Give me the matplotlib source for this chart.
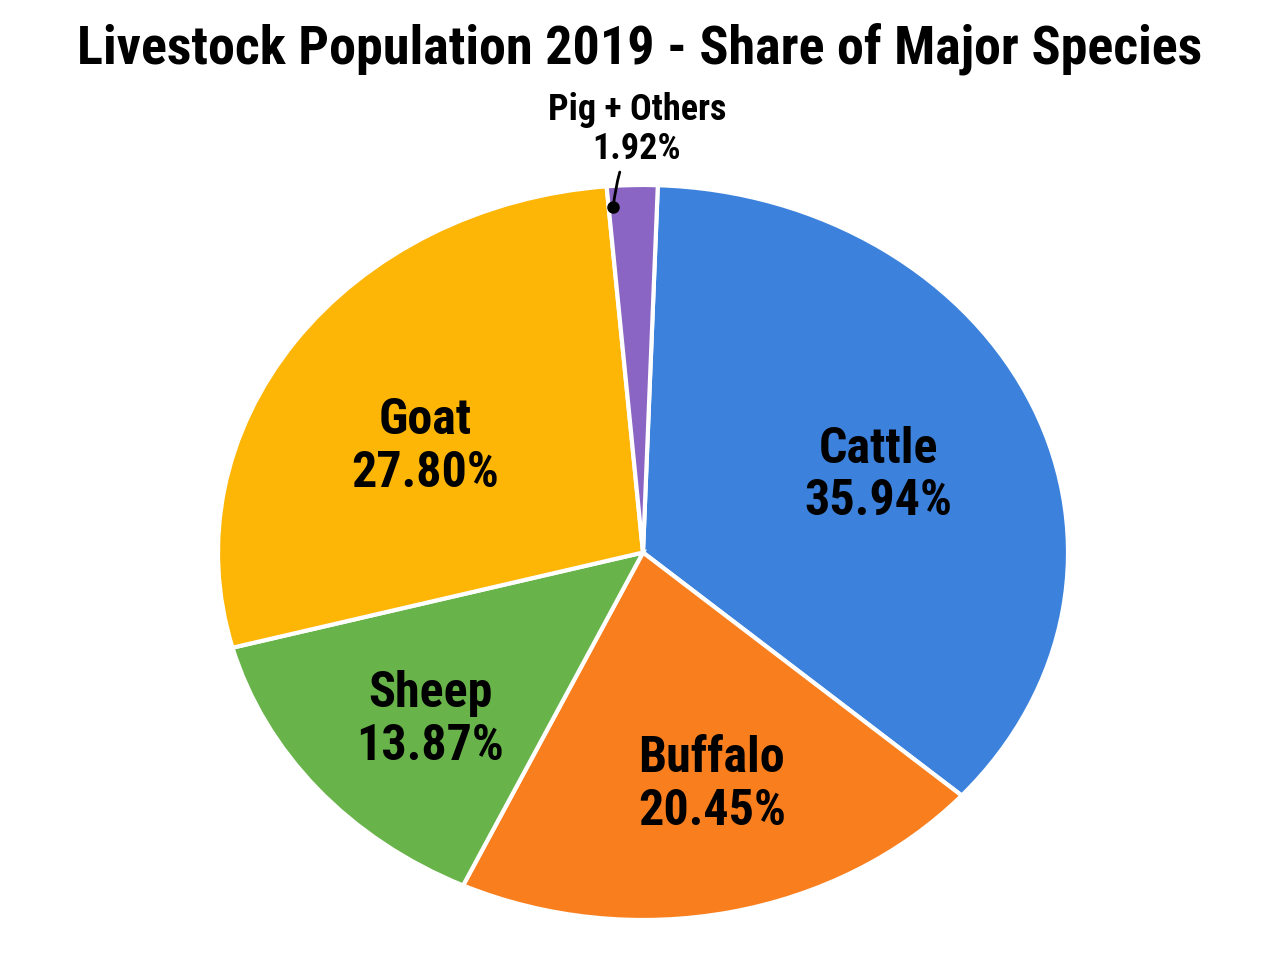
import matplotlib
matplotlib.use("Agg")
import matplotlib.pyplot as plt
from matplotlib import font_manager

species = ["Cattle", "Buffalo", "Sheep", "Goat", "Pig + Others"]
shares = [35.94, 20.45, 13.87, 27.80, 1.92]
colors = ["#3C82DC", "#F97F1E", "#68B44A", "#FDB506", "#8A65C4"]

installed = {f.name for f in font_manager.fontManager.ttflist}
family = "DejaVu Sans"
for name in ["Roboto Condensed", "Liberation Sans Narrow", "Open Sans Condensed", "Liberation Sans"]:
    if name in installed:
        family = name
        break
plt.rcParams["font.family"] = [family, "DejaVu Sans"]

fig = plt.figure(figsize=(12.8, 9.6), dpi=100)
# elliptical pie: axes wider than tall, aspect left free
ax = fig.add_axes([218 / 1280, 40 / 960, 850 / 1280, 735 / 960])
wedges, _ = ax.pie(shares, colors=colors, startangle=88, counterclock=False,
                   wedgeprops=dict(edgecolor="white", linewidth=3))
ax.set_aspect("auto")
ax.set_xlim(-1, 1)
ax.set_ylim(-1, 1)
ax.axis("off")

# inside label positions (data coords of the ellipse)
label_pos = {
    "Cattle": (0.553, 0.21),
    "Buffalo": (0.162, -0.633),
    "Sheep": (-0.50, -0.456),
    "Goat": (-0.513, 0.287),
}
for name, val in zip(species, shares):
    if name in label_pos:
        x, y = label_pos[name]
        ax.text(x, y, f"{name}\n{val:.2f}%", ha="center", va="center",
                fontsize=36, fontweight="bold", linespacing=1.15)

# small slice labelled outside with a pointer
ax.annotate(f"{species[4]}\n{shares[4]:.2f}%", xy=(-0.07, 0.94), xytext=(-0.014, 1.05),
            ha="center", va="bottom", fontsize=26, fontweight="bold",
            linespacing=1.1, annotation_clip=False,
            arrowprops=dict(arrowstyle="-", color="black", lw=2,
                            shrinkA=2, shrinkB=0,
                            connectionstyle="arc3,rad=0.1"))
ax.plot([-0.07], [0.94], "o", color="black", markersize=8, clip_on=False)

fig.suptitle("Livestock Population 2019 - Share of Major Species", y=0.977,
             fontsize=39, fontweight="bold")

fig.savefig("out.png", dpi=100, facecolor="white")
